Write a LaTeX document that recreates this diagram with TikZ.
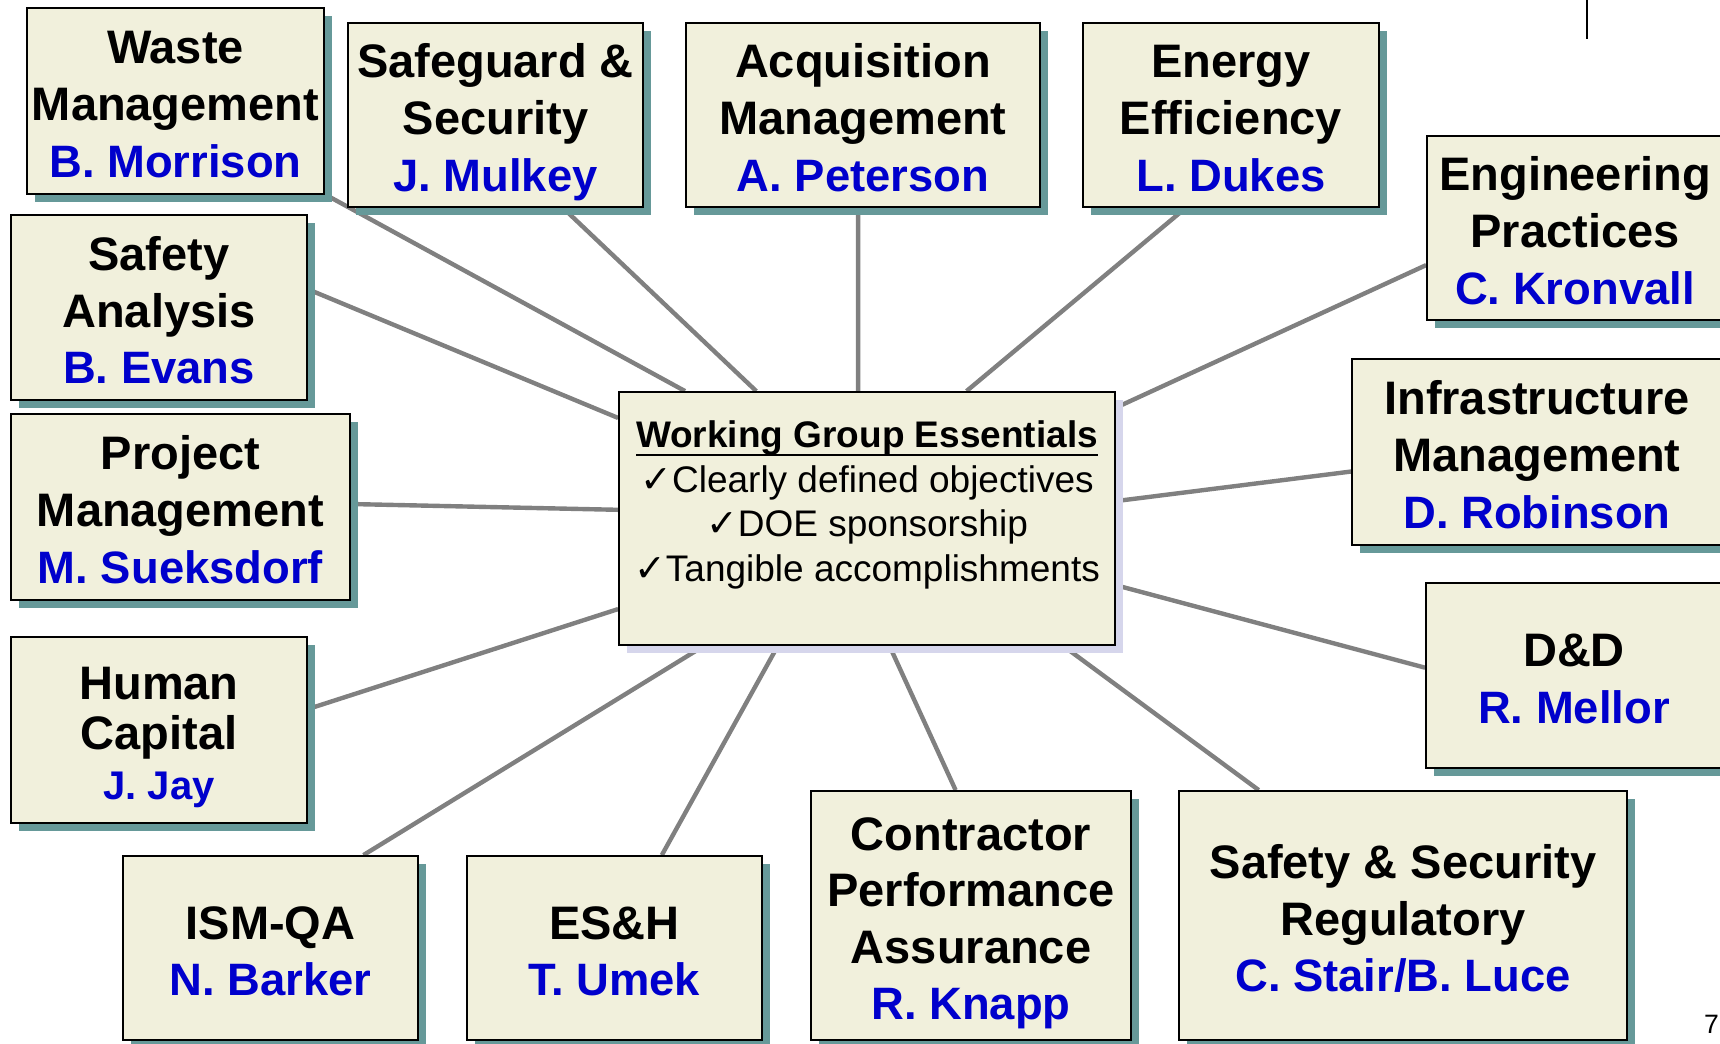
\documentclass[tikz,border=0pt]{standalone}
\usepackage{fontspec}
\setmainfont{Liberation Sans}
\newfontfamily\checkfont{DejaVu Sans}
\usetikzlibrary{shadows,backgrounds}
\definecolor{boxfill}{RGB}{241,240,220}
\definecolor{boxshade}{RGB}{102,153,153}
\definecolor{hubshade}{RGB}{214,214,236}
\definecolor{leadblue}{RGB}{0,0,204}
\definecolor{linkgray}{RGB}{128,128,128}
\newcommand{\wgtop}{\rule{0pt}{24.5pt}}
\newcommand{\wglead}[1]{{\color{leadblue}\fontsize{22.7}{28.3}\selectfont #1}\rule[-5pt]{0pt}{5pt}}
\newcommand{\wgcheck}{{\checkfont\fontsize{19}{19}\selectfont ✓}}
\newcommand{\ulhead}[1]{\setbox0\hbox{#1}\rlap{\rule[-4.2pt]{\wd0}{1.3pt}}\box0}
\begin{document}
\begin{tikzpicture}[x=0.5pt, y=-0.5pt,
		box/.style={draw, line width=0.9pt, fill=boxfill, align=center, inner sep=0pt, minimum width=148pt, minimum height=92.5pt, font=\fontsize{23.5}{28.3}\selectfont\bfseries, drop shadow={shadow xshift=4pt, shadow yshift=-4pt, fill=boxshade, opacity=1}},
		hub/.style={draw, line width=0.9pt, fill=boxfill, align=center, inner sep=0pt, minimum width=248pt, minimum height=126.5pt, font=\fontsize{18.5}{22.3}\selectfont, drop shadow={shadow xshift=4pt, shadow yshift=-4pt, fill=hubshade, opacity=1}},
		link/.style={draw=linkgray, line width=2.2pt}]
		\useasboundingbox (0, 0) rectangle (1720, 1044);
		\node[hub] (hub) at (867, 518.5) {\ulhead{\bfseries Working Group Essentials}\\\wgcheck Clearly defined objectives\\\wgcheck DOE sponsorship\\\wgcheck Tangible accomplishments\\[-5pt]\mbox{}};
		\node[box, minimum width=148.5pt, minimum height=93pt] (waste) at (175.5, 101) {\wgtop Waste\\Management\\\wglead{B. Morrison}};
		\node[box, minimum width=147.5pt, minimum height=92pt] (safeguard) at (495.5, 115) {\wgtop Safeguard \&\\Security\\\wglead{J. Mulkey}};
		\node[box, minimum width=177pt, minimum height=92pt] (acquisition) at (863, 115) {\wgtop Acquisition\\Management\\\wglead{A. Peterson}};
		\node[box, minimum height=92pt] (energy) at (1231, 115) {\wgtop Energy\\Efficiency\\\wglead{L. Dukes}};
		\node[box, minimum height=92pt] (engineering) at (1575, 228) {\wgtop Engineering\\Practices\\\wglead{C. Kronvall}};
		\node[box] (safety) at (159, 307.5) {\wgtop Safety\\Analysis\\\wglead{B. Evans}};
		\node[box, minimum width=169.5pt, minimum height=93pt] (project) at (180.5, 507) {\wgtop Project\\Management\\\wglead{M. Sueksdorf}};
		\node[box, minimum width=185pt, minimum height=93pt] (infra) at (1537, 452) {\wgtop Infrastructure\\Management\\\wglead{D. Robinson}};
		\node[box, minimum height=93pt, font=\fontsize{23.5}{25}\selectfont\bfseries] (human) at (159, 730) {\wgtop Human\\Capital\\\wglead{\fontsize{20}{25}\selectfont J. Jay}};
		\node[box] (dnd) at (1574, 675.5) {\wgtop D\&D\\\wglead{R. Mellor}};
		\node[box, minimum width=147.5pt, minimum height=92pt] (ismqa) at (270.5, 948) {\wgtop ISM-QA\\\wglead{N. Barker}};
		\node[box, minimum width=147.5pt, minimum height=92pt] (esh) at (614.5, 948) {\wgtop ES\&H\\\wglead{T. Umek}};
		\node[box, minimum width=160pt, minimum height=124.5pt] (contractor) at (971, 915.5) {\wgtop Contractor\\Performance\\Assurance\\\wglead{R. Knapp}};
		\node[box, minimum width=224pt, minimum height=124.5pt] (regulatory) at (1403, 915.5) {\wgtop Safety \& Security\\Regulatory\\\wglead{C. Stair/B. Luce}};
		\begin{scope}[on background layer]
			\draw[link] (hub.145) -- (waste.-32);
			\draw[link] (hub.131.5) -- (safeguard.-54);
			\draw[link] (hub.94) -- (acquisition.-93);
			\draw[link] (hub.52) -- (energy.-116);
			\draw[link] (hub.24) -- (engineering.194);
			\draw[link] (hub.4.5) -- (infra.186.5);
			\draw[link] (hub.-15.5) -- (dnd.177);
			\draw[link] (hub.-33.5) -- (regulatory.139);
			\draw[link] (hub.-80) -- (contractor.97);
			\draw[link] (hub.-125.5) -- (esh.63.5);
			\draw[link] (hub.-142.5) -- (ismqa.45);
			\draw[link] (hub.-160) -- (human.8);
			\draw[link] (hub.178.5) -- (project.1.5);
			\draw[link] (hub.158) -- (safety.7.5);
		\end{scope}
		\draw[line width=1pt] (1587, 0) -- (1587, 39);
		\node[inner sep=0pt, font=\fontsize{13.3}{16}\selectfont] (slideno) at (1711.5, 1024.5) {7};
\end{tikzpicture}
\end{document}
